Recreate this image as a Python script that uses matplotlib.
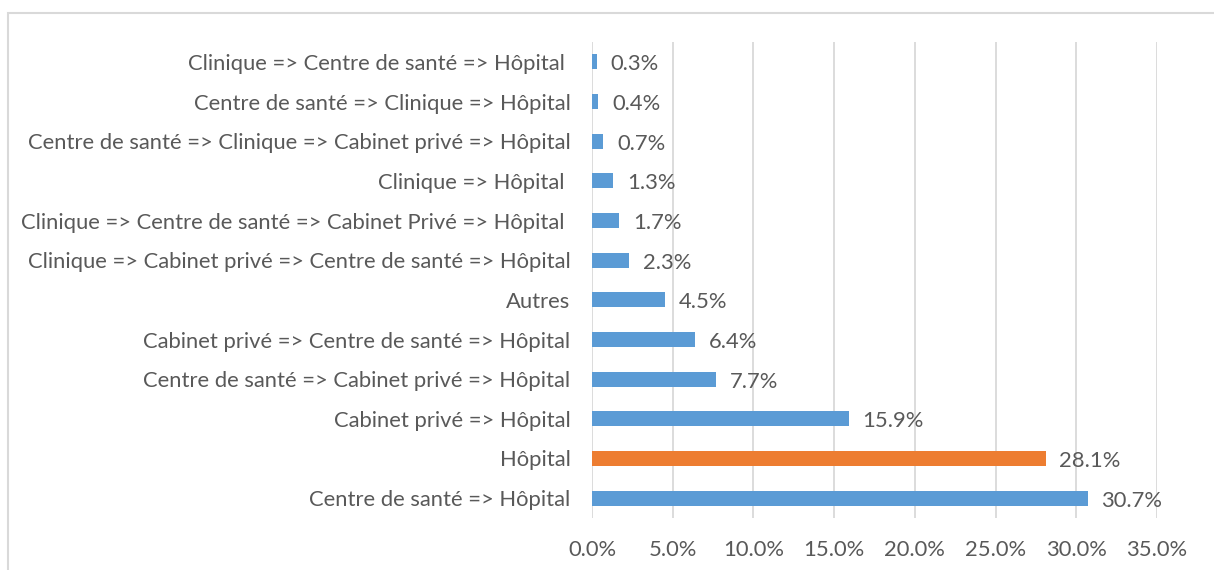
import matplotlib.pyplot as plt
from matplotlib.patches import Rectangle
from matplotlib.ticker import FuncFormatter, MultipleLocator

# Parcours de soins, du bas vers le haut
parcours = [
    "Centre de santé => Hôpital",
    "Hôpital",
    "Cabinet privé => Hôpital",
    "Centre de santé => Cabinet privé => Hôpital",
    "Cabinet privé => Centre de santé => Hôpital",
    "Autres",
    "Clinique => Cabinet privé => Centre de santé => Hôpital",
    "Clinique => Centre de santé => Cabinet Privé => Hôpital ",
    "Clinique => Hôpital ",
    "Centre de santé => Clinique => Cabinet privé => Hôpital",
    "Centre de santé => Clinique => Hôpital",
    "Clinique => Centre de santé => Hôpital ",
]
pourcentages = [30.7, 28.1, 15.9, 7.7, 6.4, 4.5, 2.3, 1.7, 1.3, 0.7, 0.4, 0.3]
couleurs = ["#5B9BD5", "#ED7D31"] + ["#5B9BD5"] * 10

plt.rcParams['font.family'] = ['Lato', 'DejaVu Sans']
texte = "#595959"
taille = 15.8

fig = plt.figure(figsize=(12.14, 5.70), dpi=100)
ax = fig.add_axes([592 / 1214, 1 - 518 / 570, (1157 - 592) / 1214, (518 - 42) / 570])

y = range(len(parcours))
ax.barh(y, pourcentages, height=0.38, color=couleurs, zorder=3)

for yi, v in zip(y, pourcentages):
    ax.text(v + 0.85, yi - 0.06, f"{v:.1f}%", va="center", ha="left",
            fontsize=taille, color=texte)

ax.set_xlim(0, 35)
ax.set_ylim(-0.5, len(parcours) - 0.5)
ax.xaxis.set_major_locator(MultipleLocator(5))
ax.xaxis.set_major_formatter(FuncFormatter(lambda v, _: f"{v:.1f}%"))
ax.set_yticks(list(y))
ax.set_yticklabels(parcours)
ax.tick_params(axis="both", length=0, labelsize=taille, labelcolor=texte)
ax.tick_params(axis="x", pad=15.5)
ax.tick_params(axis="y", pad=15.5)

ax.grid(axis="x", color="#D9D9D9", linewidth=1.3, zorder=0)
for s in ax.spines.values():
    s.set_visible(False)

# cadre du graphique, ouvert en bas et à droite
fig.patches.append(Rectangle((8 / 1214, -0.05), 1.1, 1 - 13 / 570 + 0.05,
                             transform=fig.transFigure, fill=False,
                             edgecolor="#D9D9D9", linewidth=1.5))

fig.savefig("out.png", dpi=100)
